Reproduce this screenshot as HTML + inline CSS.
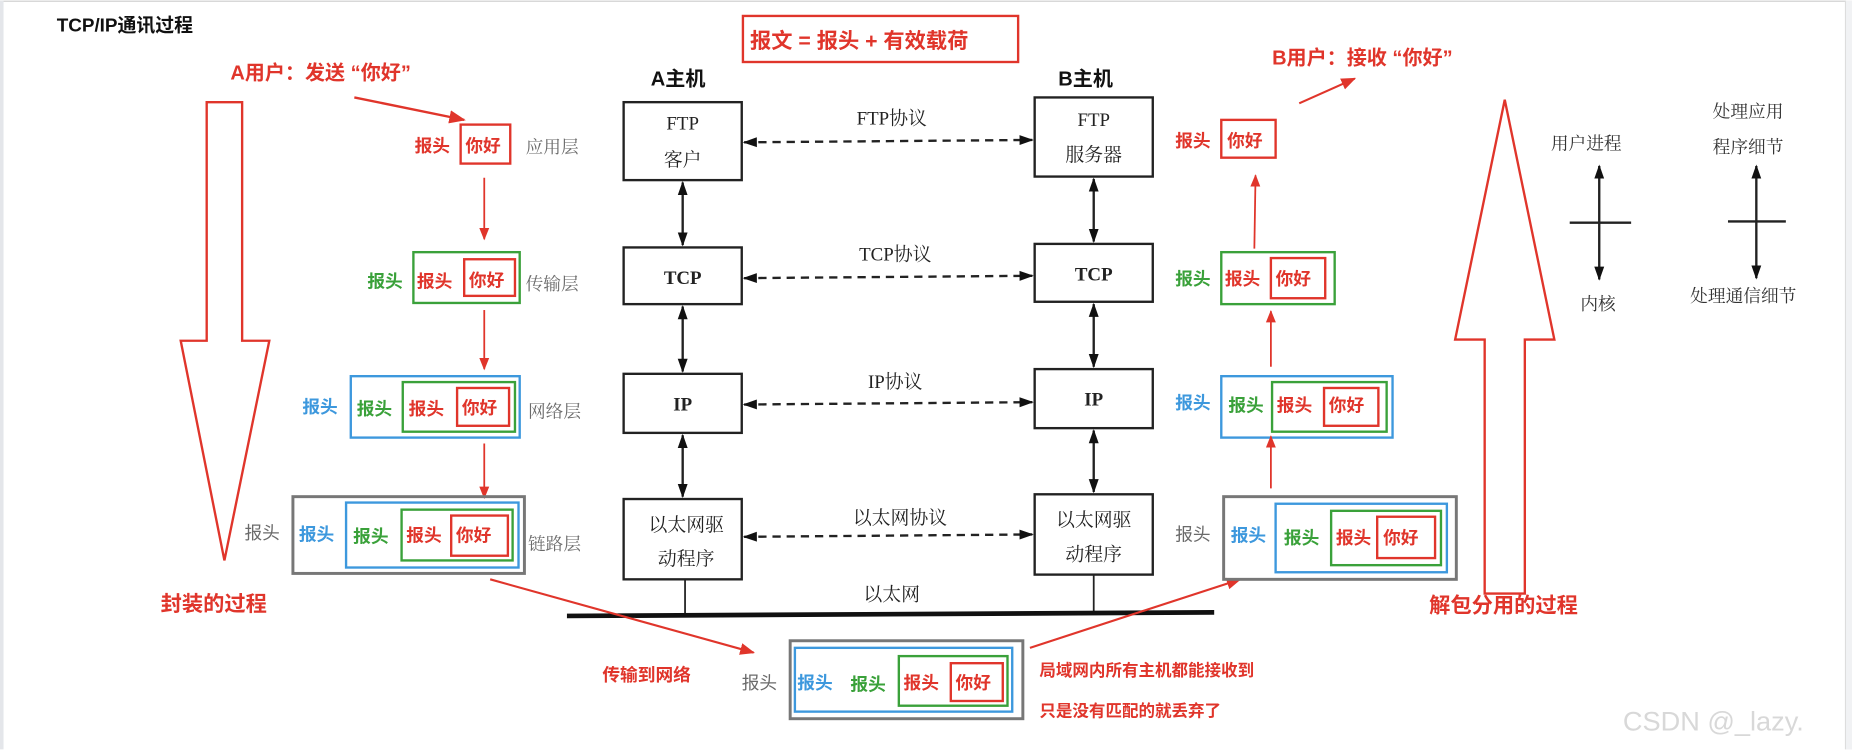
<!DOCTYPE html>
<html><head><meta charset="utf-8"><style>
html,body{margin:0;padding:0;background:#fff;width:1852px;height:750px;overflow:hidden}
svg{display:block}
.b{font-family:"Liberation Sans","Noto Sans CJK SC",sans-serif;font-weight:bold}
.s{font-family:"Liberation Serif","Noto Serif CJK SC",serif}
.r{fill:#e0352b}.g{fill:#3aa13a}.bl{fill:#3d98dd}.gy{fill:#6a6a6a}
</style></head><body>
<svg width="1852" height="750" viewBox="0 0 1568 634" xmlns="http://www.w3.org/2000/svg">
<defs>
<marker id="ra" viewBox="0 0 10 10" refX="9" refY="5" markerWidth="7" markerHeight="7" orient="auto"><path d="M0,1L10,5L0,9z" fill="#e0352b"/></marker>
<marker id="ka" viewBox="0 0 10 10" refX="9" refY="5" markerWidth="6" markerHeight="6" orient="auto-start-reverse"><path d="M0,1.5L10,5L0,8.5z" fill="#111"/></marker>
</defs>
<rect x="0" y="0" width="1568" height="634" fill="#fff"/>
<line x1="0" y1="0.5" x2="1568" y2="0.5" stroke="#ccc"/>
<line x1="1.5" y1="0" x2="1.5" y2="634" stroke="#e4e6ea" stroke-width="3"/>
<rect x="1563" y="0" width="5" height="634" fill="#f1f2f4"/>
<line x1="1562.5" y1="0" x2="1562.5" y2="634" stroke="#ddd"/>

<text x="48" y="26" class="b" font-size="16" fill="#111">TCP/IP通讯过程</text>

<path d="M175,86 H205 V288 H228 L190,474 L153,288 H175 Z" fill="none" stroke="#e0352b" stroke-width="2"/>
<text x="136" y="517" class="b r" font-size="18">封装的过程</text>

<text x="195" y="67" class="b r" font-size="17">A用户：发送 “你好”</text>
<line x1="300" y1="82" x2="393" y2="101" stroke="#e0352b" stroke-width="2" marker-end="url(#ra)"/>

<g font-size="15">
<text x="351" y="128" class="b r">报头</text>
<rect x="390" y="105" width="42" height="33" fill="none" stroke="#e0352b" stroke-width="2"/>
<text x="394" y="128" class="b r">你好</text>
<text x="445" y="129" class="gy" font-family="Noto Serif CJK SC,serif">应用层</text>
<line x1="410" y1="150" x2="410" y2="202" stroke="#e0352b" stroke-width="1.5" marker-end="url(#ra)"/>
<text x="311" y="243" class="b g">报头</text>
<rect x="350" y="213" width="90" height="43" fill="none" stroke="#3aa13a" stroke-width="2"/>
<text x="353" y="243" class="b r">报头</text>
<rect x="393" y="219" width="43" height="31" fill="none" stroke="#e0352b" stroke-width="2"/>
<text x="397" y="242" class="b r">你好</text>
<text x="445" y="245" class="gy" font-family="Noto Serif CJK SC,serif">传输层</text>
<line x1="410" y1="262" x2="410" y2="312" stroke="#e0352b" stroke-width="1.5" marker-end="url(#ra)"/>
<text x="256" y="349" class="b bl">报头</text>
<rect x="297" y="318" width="143" height="52" fill="none" stroke="#3d98dd" stroke-width="2"/>
<text x="302" y="351" class="b g">报头</text>
<rect x="341" y="323" width="95" height="42" fill="none" stroke="#3aa13a" stroke-width="2"/>
<text x="346" y="351" class="b r">报头</text>
<rect x="387" y="328" width="44" height="32" fill="none" stroke="#e0352b" stroke-width="2"/>
<text x="391" y="350" class="b r">你好</text>
<text x="447" y="353" class="gy" font-family="Noto Serif CJK SC,serif">网络层</text>
<line x1="410" y1="375" x2="410" y2="421" stroke="#e0352b" stroke-width="1.5" marker-end="url(#ra)"/>
<text x="207" y="456" class="gy" font-family="Noto Sans CJK SC,sans-serif">报头</text>
<rect x="248" y="420" width="196" height="65" fill="none" stroke="#777" stroke-width="2.5"/>
<text x="253" y="457" class="b bl">报头</text>
<rect x="293" y="425" width="146" height="55" fill="none" stroke="#3d98dd" stroke-width="2"/>
<text x="299" y="459" class="b g">报头</text>
<rect x="340" y="431" width="94" height="43" fill="none" stroke="#3aa13a" stroke-width="2"/>
<text x="344" y="458" class="b r">报头</text>
<rect x="382" y="436" width="48" height="34" fill="none" stroke="#e0352b" stroke-width="2"/>
<text x="386" y="458" class="b r">你好</text>
<text x="447" y="465" class="gy" font-family="Noto Serif CJK SC,serif">链路层</text>
</g>

<rect x="629" y="13" width="233" height="39" fill="none" stroke="#e0352b" stroke-width="2"/>
<text x="635" y="40" class="b r" font-size="18">报文 = 报头 + 有效载荷</text>
<text x="551" y="72" class="b" font-size="17" fill="#111">A主机</text>
<text x="896" y="72" class="b" font-size="17" fill="#111">B主机</text>

<g fill="#fff" stroke="#222" stroke-width="2">
<rect x="528" y="86" width="100" height="66"/><rect x="528" y="209" width="100" height="48"/>
<rect x="528" y="316" width="100" height="50"/><rect x="528" y="422" width="100" height="68"/>
<rect x="876" y="82" width="100" height="67"/><rect x="876" y="206" width="100" height="49"/>
<rect x="876" y="312" width="100" height="50"/><rect x="876" y="418" width="100" height="68"/>
</g>
<g class="s" font-size="16" fill="#222" text-anchor="middle">
<text x="578" y="109">FTP</text><text x="578" y="140">客户</text>
<text x="578" y="240" font-weight="bold">TCP</text>
<text x="578" y="347" font-weight="bold">IP</text>
<text x="581" y="449">以太网驱</text><text x="581" y="478">动程序</text>
<text x="926" y="106">FTP</text><text x="926" y="136">服务器</text>
<text x="926" y="237" font-weight="bold">TCP</text>
<text x="926" y="343" font-weight="bold">IP</text>
<text x="926" y="445">以太网驱</text><text x="926" y="474">动程序</text>
<text x="755" y="105">FTP协议</text><text x="758" y="220">TCP协议</text>
<text x="758" y="328">IP协议</text><text x="762" y="443">以太网协议</text>
<text x="755" y="508">以太网</text>
</g>
<g stroke="#222" stroke-width="2" fill="none">
<line x1="578" y1="154" x2="578" y2="207" marker-start="url(#ka)" marker-end="url(#ka)"/>
<line x1="578" y1="259" x2="578" y2="314" marker-start="url(#ka)" marker-end="url(#ka)"/>
<line x1="578" y1="368" x2="578" y2="420" marker-start="url(#ka)" marker-end="url(#ka)"/>
<line x1="926" y1="151" x2="926" y2="204" marker-start="url(#ka)" marker-end="url(#ka)"/>
<line x1="926" y1="257" x2="926" y2="310" marker-start="url(#ka)" marker-end="url(#ka)"/>
<line x1="926" y1="364" x2="926" y2="416" marker-start="url(#ka)" marker-end="url(#ka)"/>
<g stroke-dasharray="7,5">
<line x1="630" y1="120" x2="874" y2="118" marker-start="url(#ka)" marker-end="url(#ka)"/>
<line x1="630" y1="235" x2="874" y2="233" marker-start="url(#ka)" marker-end="url(#ka)"/>
<line x1="630" y1="342" x2="874" y2="340" marker-start="url(#ka)" marker-end="url(#ka)"/>
<line x1="630" y1="454" x2="874" y2="452" marker-start="url(#ka)" marker-end="url(#ka)"/>
</g>
<line x1="580" y1="490" x2="580" y2="520" stroke-width="1.5"/>
<line x1="926" y1="486" x2="926" y2="518" stroke-width="1.5"/>
</g>
<line x1="480" y1="521" x2="1028" y2="518" stroke="#111" stroke-width="4"/>

<line x1="415" y1="490" x2="638" y2="552" stroke="#e0352b" stroke-width="1.8" marker-end="url(#ra)"/>
<text x="510" y="576" class="b r" font-size="15">传输到网络</text>
<g font-size="15">
<text x="628" y="583" class="gy" font-family="Noto Sans CJK SC,sans-serif">报头</text>
<rect x="669" y="542" width="197" height="66" fill="none" stroke="#777" stroke-width="2.5"/>
<text x="675" y="583" class="b bl">报头</text>
<rect x="673" y="548" width="184" height="54" fill="none" stroke="#3d98dd" stroke-width="2"/>
<text x="720" y="584" class="b g">报头</text>
<rect x="761" y="555" width="92" height="42" fill="none" stroke="#3aa13a" stroke-width="2"/>
<text x="765" y="583" class="b r">报头</text>
<rect x="805" y="561" width="44" height="32" fill="none" stroke="#e0352b" stroke-width="2"/>
<text x="809" y="583" class="b r">你好</text>
</g>
<text x="880" y="572" class="b r" font-size="14">局域网内所有主机都能接收到</text>
<text x="880" y="606" class="b r" font-size="14">只是没有匹配的就丢弃了</text>
<line x1="872" y1="548" x2="1050" y2="490" stroke="#e0352b" stroke-width="1.8" marker-end="url(#ra)"/>

<text x="1077" y="54" class="b r" font-size="17">B用户：接收 “你好”</text>
<line x1="1100" y1="87" x2="1147" y2="66" stroke="#e0352b" stroke-width="1.8" marker-end="url(#ra)"/>
<g font-size="15">
<text x="995" y="124" class="b r">报头</text>
<rect x="1034" y="101" width="46" height="32" fill="none" stroke="#e0352b" stroke-width="2"/>
<text x="1039" y="124" class="b r">你好</text>
<line x1="1062" y1="210" x2="1063" y2="148" stroke="#e0352b" stroke-width="1.5" marker-end="url(#ra)"/>
<text x="995" y="241" class="b g">报头</text>
<rect x="1034" y="213" width="96" height="44" fill="none" stroke="#3aa13a" stroke-width="2"/>
<text x="1037" y="241" class="b r">报头</text>
<rect x="1076" y="218" width="46" height="34" fill="none" stroke="#e0352b" stroke-width="2"/>
<text x="1080" y="241" class="b r">你好</text>
<line x1="1076" y1="310" x2="1076" y2="263" stroke="#e0352b" stroke-width="1.5" marker-end="url(#ra)"/>
<text x="995" y="346" class="b bl">报头</text>
<rect x="1034" y="318" width="145" height="52" fill="none" stroke="#3d98dd" stroke-width="2"/>
<text x="1040" y="348" class="b g">报头</text>
<rect x="1077" y="323" width="97" height="42" fill="none" stroke="#3aa13a" stroke-width="2"/>
<text x="1081" y="348" class="b r">报头</text>
<rect x="1121" y="328" width="46" height="32" fill="none" stroke="#e0352b" stroke-width="2"/>
<text x="1125" y="348" class="b r">你好</text>
<line x1="1076" y1="413" x2="1076" y2="369" stroke="#e0352b" stroke-width="1.5" marker-end="url(#ra)"/>
<text x="995" y="457" class="gy" font-family="Noto Sans CJK SC,sans-serif">报头</text>
<rect x="1036" y="420" width="197" height="70" fill="none" stroke="#777" stroke-width="2.5"/>
<text x="1042" y="458" class="b bl">报头</text>
<rect x="1080" y="426" width="145" height="58" fill="none" stroke="#3d98dd" stroke-width="2"/>
<text x="1087" y="460" class="b g">报头</text>
<rect x="1127" y="432" width="93" height="46" fill="none" stroke="#3aa13a" stroke-width="2"/>
<text x="1131" y="460" class="b r">报头</text>
<rect x="1166" y="437" width="49" height="35" fill="none" stroke="#e0352b" stroke-width="2"/>
<text x="1171" y="460" class="b r">你好</text>
</g>
<path d="M1257,502 V287 H1232 L1274,84 L1316,287 H1291 V502 Z" fill="none" stroke="#e0352b" stroke-width="2"/>
<text x="1210" y="518" class="b r" font-size="18">解包分用的过程</text>

<g class="s" font-size="15" fill="#333">
<text x="1313" y="126">用户进程</text><text x="1338" y="262">内核</text>
<text x="1450" y="99">处理应用</text><text x="1450" y="129">程序细节</text>
<text x="1431" y="255">处理通信细节</text>
</g>
<g stroke="#222" stroke-width="2">
<line x1="1354" y1="140" x2="1354" y2="236" marker-start="url(#ka)" marker-end="url(#ka)"/>
<line x1="1329" y1="188" x2="1381" y2="188"/>
<line x1="1487" y1="140" x2="1487" y2="235" marker-start="url(#ka)" marker-end="url(#ka)"/>
<line x1="1463" y1="187" x2="1512" y2="187"/>
</g>
<rect x="1563" y="0" width="5" height="634" fill="#f1f2f4"/>
<text x="1374" y="618" font-family="Liberation Sans,sans-serif" font-size="23" fill="#d8d8d8">CSDN @_lazy.</text>
</svg>
</body></html>
